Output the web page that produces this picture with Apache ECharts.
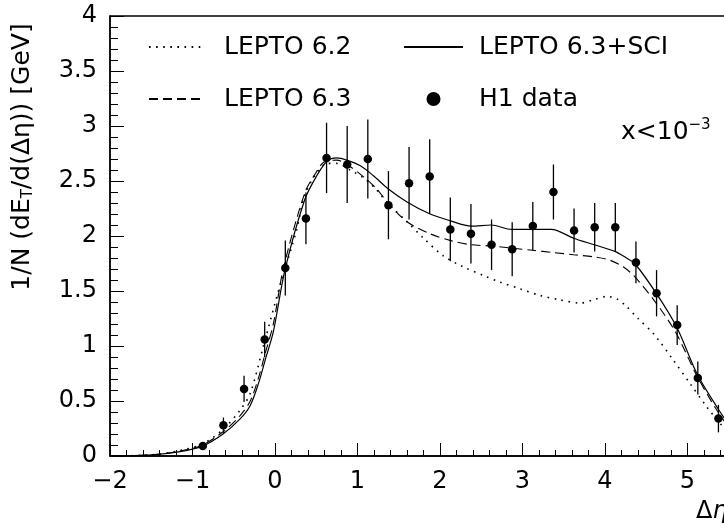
<!DOCTYPE html>
<html>
<head>
<meta charset="utf-8">
<script src="https://cdn.jsdelivr.net/npm/echarts@6/dist/echarts.min.js"></script>
<style>
  html, body { margin: 0; padding: 0; background: #fff; }
  #chart { width: 724px; height: 527px; }
</style>
</head>
<body>
<div id="chart"></div>
<script>
// ---- data ----
var FONT = 'DejaVu Sans';

// LEPTO 6.3+SCI (solid)
var sciX = [-2, -1.5, -1.15, -0.88, -0.63, -0.42, -0.3, -0.2, -0.12, -0.02, 0.12, 0.36, 0.5, 0.63, 0.75, 0.87, 1.03, 1.19, 1.37, 1.6, 1.88, 2.12, 2.38, 2.62, 2.87, 3.12, 3.35, 3.62, 3.87, 4.12, 4.26, 4.36, 4.62, 4.87, 5.12, 5.37, 5.6];
var sciY = [0, 0.01, 0.04, 0.09, 0.2, 0.34, 0.46, 0.66, 0.87, 1.13, 1.69, 2.33, 2.54, 2.68, 2.71, 2.69, 2.64, 2.55, 2.43, 2.31, 2.2, 2.14, 2.09, 2.1, 2.06, 2.06, 2.06, 1.98, 1.92, 1.86, 1.8, 1.75, 1.48, 1.17, 0.74, 0.43, 0.18];

// LEPTO 6.3 (dashed)
var l63X = [-2, -1.5, -1.15, -0.88, -0.63, -0.42, -0.3, -0.2, -0.12, -0.02, 0.1, 0.36, 0.5, 0.59, 0.75, 0.91, 1.07, 1.23, 1.37, 1.6, 1.88, 2.12, 2.38, 2.62, 2.87, 3.12, 3.37, 3.62, 3.87, 4.06, 4.22, 4.36, 4.62, 4.86, 5.12, 5.37, 5.6];
var l63Y = [0, 0.01, 0.045, 0.1, 0.22, 0.37, 0.5, 0.71, 0.93, 1.2, 1.7, 2.39, 2.58, 2.67, 2.69, 2.63, 2.54, 2.43, 2.3, 2.13, 2.02, 1.96, 1.92, 1.91, 1.89, 1.87, 1.85, 1.83, 1.81, 1.78, 1.72, 1.63, 1.39, 1.12, 0.72, 0.4, 0.16];

// LEPTO 6.2 (dotted)
var l62X = [-2, -1.5, -1.15, -0.88, -0.63, -0.42, -0.3, -0.14, 0.06, 0.26, 0.36, 0.5, 0.63, 0.75, 0.91, 1.09, 1.23, 1.39, 1.6, 1.8, 2.04, 2.28, 2.53, 2.73, 2.97, 3.21, 3.45, 3.7, 3.86, 4.02, 4.14, 4.26, 4.4, 4.59, 4.83, 5.03, 5.23, 5.39, 5.6];
var l62Y = [0, 0.01, 0.05, 0.11, 0.24, 0.42, 0.57, 1.0, 1.55, 2.05, 2.37, 2.57, 2.66, 2.66, 2.6, 2.52, 2.42, 2.28, 2.13, 1.98, 1.82, 1.72, 1.64, 1.58, 1.52, 1.46, 1.42, 1.39, 1.42, 1.45, 1.43, 1.36, 1.25, 1.11, 0.87, 0.66, 0.45, 0.3, 0.12];

// H1 data
var dataX = [-0.875, -0.625, -0.375, -0.125, 0.125, 0.375, 0.625, 0.875, 1.125, 1.375, 1.625, 1.875, 2.125, 2.375, 2.625, 2.875, 3.125, 3.375, 3.625, 3.875, 4.125, 4.375, 4.625, 4.875, 5.125, 5.375];
var dataY = [0.09, 0.28, 0.61, 1.06, 1.71, 2.16, 2.71, 2.65, 2.70, 2.28, 2.48, 2.54, 2.06, 2.02, 1.92, 1.88, 2.09, 2.40, 2.05, 2.08, 2.08, 1.76, 1.48, 1.19, 0.71, 0.34];
var dataErr = [0.02, 0.07, 0.12, 0.16, 0.25, 0.235, 0.32, 0.35, 0.36, 0.31, 0.33, 0.34, 0.29, 0.27, 0.23, 0.245, 0.22, 0.25, 0.2, 0.22, 0.22, 0.19, 0.21, 0.18, 0.15, 0.125];

function pairs(xs, ys) {
    return xs.map(function (x, i) { return [x, ys[i]]; });
}

var chart = echarts.init(document.getElementById('chart'));

var legendText = {
    fontFamily: FONT,
    fontSize: 25,
    color: '#000',
    lineHeight: 30
};

var option = {
    animation: false,
    backgroundColor: '#fff',
    grid: {
        left: 110,
        top: 16,
        right: -46,
        bottom: 71,
        outerBoundsMode: 'none',
        containLabel: false,
        show: true,
        borderColor: '#000',
        borderWidth: 1.3
    },
    legend: [{
        left: 143,
        top: 27,
        orient: 'vertical',
        itemWidth: 54,
        itemHeight: 13,
        itemGap: 22,
        data: [
            { name: 'LEPTO 6.2', itemStyle: { opacity: 0 } },
            { name: 'LEPTO 6.3', itemStyle: { opacity: 0 } }
        ],
        textStyle: Object.assign({ padding: [0, 0, 0, 16] }, legendText)
    }, {
        left: 398,
        top: 27,
        orient: 'vertical',
        itemWidth: 59,
        itemHeight: 14,
        itemGap: 22,
        data: [
            { name: 'LEPTO 6.3+SCI', itemStyle: { opacity: 0 } },
            { name: 'H1 data' }
        ],
        textStyle: Object.assign({ padding: [0, 0, 0, 11] }, legendText)
    }],
    xAxis: {
        type: 'value',
        min: -2,
        max: 6,
        interval: 1,
        axisLine: { onZero: false, lineStyle: { color: '#000', width: 1.5 } },
        axisTick: { inside: true, length: 13, lineStyle: { color: '#000', width: 1 } },
        minorTick: { show: true, splitNumber: 5, length: 6, lineStyle: { color: '#000', width: 1 } },
        splitLine: { show: false },
        axisLabel: {
            margin: 14,
            fontFamily: FONT,
            fontSize: 24,
            color: '#000',
            formatter: function (v) { return String(v).replace('-', '\u2212'); }
        }
    },
    yAxis: {
        type: 'value',
        min: 0,
        max: 4,
        interval: 0.5,
        axisLine: { show: true, onZero: false, lineStyle: { color: '#000', width: 1.5 } },
        axisTick: { show: true, inside: true, length: 14, lineStyle: { color: '#000', width: 1 } },
        minorTick: { show: true, splitNumber: 5, length: 8, lineStyle: { color: '#000', width: 1 } },
        splitLine: { show: false },
        axisLabel: {
            margin: 13,
            fontFamily: FONT,
            fontSize: 24,
            color: '#000'
        }
    },
    series: [{
        name: 'LEPTO 6.2',
        type: 'line',
        data: pairs(l62X, l62Y),
        smooth: 0.3,
        symbol: 'none',
        color: '#000',
        lineStyle: { color: '#000', width: 1.6, type: [1.6, 5.5] }
    }, {
        name: 'LEPTO 6.3',
        type: 'line',
        data: pairs(l63X, l63Y),
        smooth: 0.3,
        symbol: 'none',
        color: '#000',
        lineStyle: { color: '#000', width: 1.1, type: [9, 5] }
    }, {
        name: 'LEPTO 6.3+SCI',
        type: 'line',
        data: pairs(sciX, sciY),
        smooth: 0.3,
        symbol: 'none',
        color: '#000',
        lineStyle: { color: '#000', width: 1.2 }
    }, {
        name: 'H1 errors',
        type: 'custom',
        data: dataX.map(function (x, i) { return [x, dataY[i], dataErr[i]]; }),
        renderItem: function (params, api) {
            var x = api.value(0), y = api.value(1), e = api.value(2);
            var p1 = api.coord([x, y - e]);
            var p2 = api.coord([x, y + e]);
            return {
                type: 'line',
                shape: { x1: p1[0], y1: p1[1], x2: p2[0], y2: p2[1] },
                style: { stroke: '#000', lineWidth: 1.3 }
            };
        },
        encode: { x: 0, y: 1 },
        z: 3
    }, {
        name: 'H1 data',
        type: 'scatter',
        data: pairs(dataX, dataY),
        symbol: 'circle',
        symbolSize: 8.5,
        itemStyle: { color: '#000', opacity: 1 },
        z: 4
    }],
    graphic: [{
        type: 'text',
        x: 22,
        y: 157,
        rotation: Math.PI / 2,
        style: {
            text: '1/N (dE{s|T}/d(\u0394\u03b7)) [GeV]',
            fontFamily: FONT,
            fontSize: 25,
            fill: '#000',
            align: 'center',
            verticalAlign: 'middle',
            rich: {
                s: { fontFamily: FONT, fontSize: 15, fill: '#000', padding: [13, 0, 0, 0] }
            }
        }
    }, {
        type: 'text',
        x: 621,
        y: 132,
        style: {
            text: 'x<10{sup|\u22123}',
            fontFamily: FONT,
            fontSize: 25,
            fill: '#000',
            verticalAlign: 'middle',
            rich: {
                sup: { fontFamily: FONT, fontSize: 15, fill: '#000', padding: [0, 0, 13, 0] }
            }
        }
    }, {
        type: 'text',
        x: 696,
        y: 512,
        style: {
            text: '\u0394{it|\u03b7}',
            fontFamily: FONT,
            fontSize: 24,
            fill: '#000',
            verticalAlign: 'middle',
            rich: {
                it: { fontFamily: FONT, fontSize: 24, fontStyle: 'italic', fill: '#000' }
            }
        }
    }]
};

chart.setOption(option);
</script>
</body>
</html>
